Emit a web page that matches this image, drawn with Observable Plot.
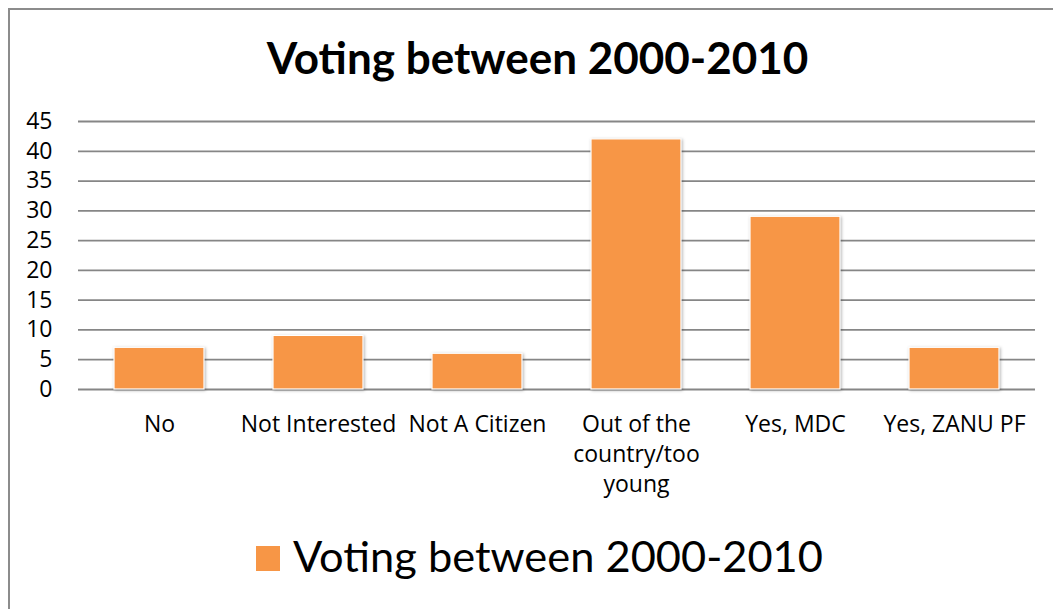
<!DOCTYPE html>
<html>
<head>
<meta charset="utf-8">
<script src="https://cdn.jsdelivr.net/npm/d3@7"></script>
<script src="https://cdn.jsdelivr.net/npm/@observablehq/plot@0.6"></script>
<style>
  html, body { margin: 0; padding: 0; background: #fff; }
  #wrap { position: relative; width: 1053px; height: 609px; overflow: hidden; background: #fff; font-family: Lato, "Open Sans", sans-serif; }
  #frame { position: absolute; left: 8px; top: 8px; width: 1100px; height: 700px; border: 2px solid #8c8c8c; box-sizing: border-box; }
  #title { position: absolute; left: 11px; width: 1053px; top: 29px; text-align: center; font-weight: 700; font-size: 44px; line-height: 56px; color: #000; white-space: nowrap; }
  #chart { position: absolute; left: 0; top: 95px; }
  #legend .sw { position: absolute; left: 256px; top: 546px; width: 24px; height: 25px; background: #F79646; }
  #legend .lb { position: absolute; left: 293px; top: 526px; font-size: 43.4px; line-height: 58px; color: #000; white-space: nowrap; }
  g[aria-label="bar"] rect { filter: drop-shadow(1px 1px 1.5px rgba(0,0,0,0.3)); }
</style>
</head>
<body>
<div id="wrap">
  <div id="frame"></div>
  <div id="title"></div>
  <div id="chart"></div>
  <div id="legend"><div class="sw"></div><div class="lb"></div></div>
</div>
<script>
const titleText = "Voting between 2000-2010";
const seriesName = "Voting between 2000-2010";
const categories = ["No", "Not Interested", "Not A Citizen", "Out of the country/too young", "Yes, MDC", "Yes, ZANU PF"];
const tickLabels = ["No", "Not Interested", "Not A Citizen", "Out of the\ncountry/too\nyoung", "Yes, MDC", "Yes, ZANU PF"];
const values = [7, 9, 6, 42, 29, 7];
const yTicks = [0, 5, 10, 15, 20, 25, 30, 35, 40, 45];

const data = categories.map((c, i) => ({category: c, value: values[i]}));
const labelOf = new Map(categories.map((c, i) => [c, tickLabels[i]]));

document.getElementById("title").textContent = titleText;
document.querySelector("#legend .lb").textContent = seriesName;

const plot = Plot.plot({
  width: 1053,
  height: 420,
  marginTop: 26,
  marginBottom: 126,
  marginLeft: 78,
  marginRight: 18,
  style: {fontFamily: "'Open Sans', Lato, sans-serif", fontSize: "23px", color: "#000", background: "transparent", overflow: "visible"},
  x: {domain: categories, paddingInner: 0.436, paddingOuter: 0.218, label: null},
  y: {domain: [0, 45], label: null},
  marks: [
    Plot.gridY(yTicks, {stroke: "#868686", strokeOpacity: 1, strokeWidth: 1.8}),
    Plot.barY(data, {x: "category", y: "value", fill: "#F79646", stroke: "#ffffff", strokeWidth: 1.2}),
    Plot.axisY({ticks: yTicks, tickSize: 0, tickPadding: 26, label: null, fontSize: 23}),
    Plot.axisX({tickSize: 0, tickPadding: 21, label: null, fontSize: 23, lineHeight: 1.3, tickFormat: d => labelOf.get(d)})
  ]
});
document.getElementById("chart").appendChild(plot);
</script>
</body>
</html>
